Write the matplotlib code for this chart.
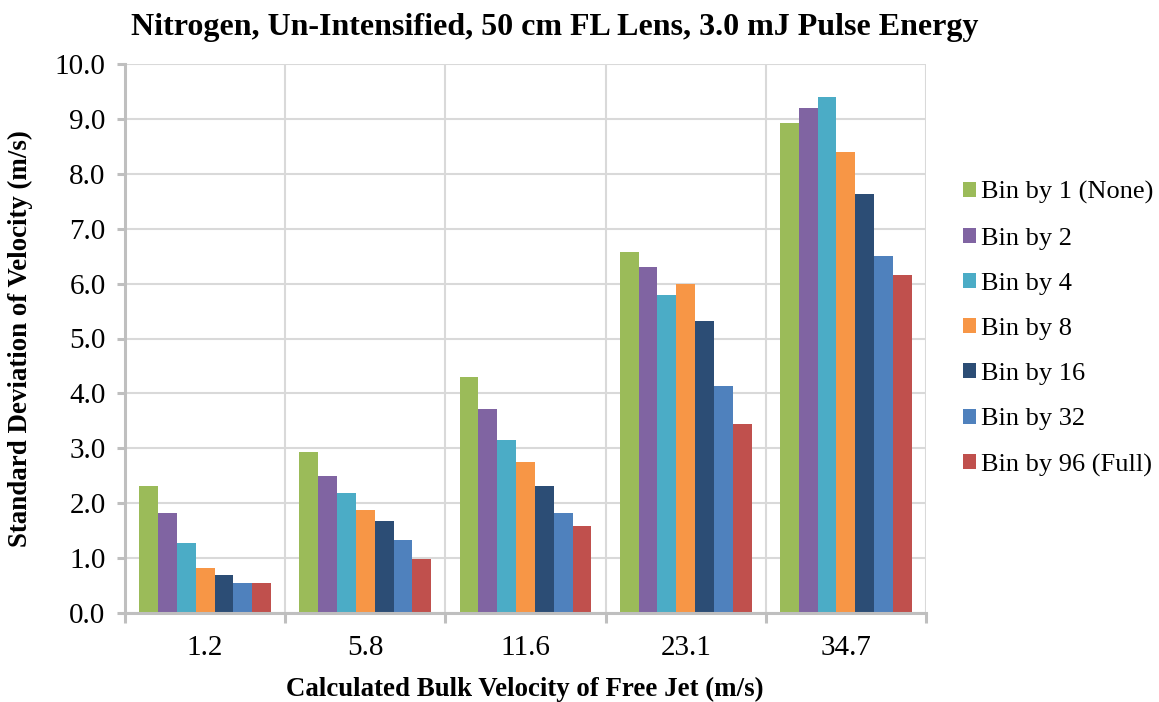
import matplotlib.pyplot as plt
import numpy as np

plt.rcParams['font.family'] = ['Liberation Serif', 'DejaVu Serif']

categories = ['1.2', '5.8', '11.6', '23.1', '34.7']
series_names = ['Bin by 1 (None)', 'Bin by 2', 'Bin by 4', 'Bin by 8',
                'Bin by 16', 'Bin by 32', 'Bin by 96 (Full)']
bin1 = [2.32, 2.93, 4.29, 6.57, 8.92]
bin2 = [1.83, 2.49, 3.72, 6.31, 9.20]
bin4 = [1.28, 2.18, 3.15, 5.79, 9.40]
bin8 = [0.82, 1.88, 2.75, 6.00, 8.40]
bin16 = [0.69, 1.67, 2.32, 5.31, 7.64]
bin32 = [0.55, 1.33, 1.82, 4.14, 6.51]
bin96 = [0.54, 0.99, 1.59, 3.45, 6.15]
series = [bin1, bin2, bin4, bin8, bin16, bin32, bin96]
colors = ['#9BBB59', '#8064A2', '#4BACC6', '#F79646', '#2C4D75', '#4F81BD', '#C0504D']

fig = plt.figure(figsize=(11.59, 7.02), dpi=100)
ax = fig.add_axes([125 / 1159, 1 - 613 / 702, (926 - 125) / 1159, (613 - 64) / 702])

x = np.arange(len(categories))
w = 0.1175
bars = []
for i, (vals, col) in enumerate(zip(series, colors)):
    b = ax.bar(x + (i - 3) * w, vals, width=w, color=col, linewidth=0, zorder=3)
    bars.append(b)

ax.set_xlim(-0.5, len(categories) - 0.5)
ax.set_ylim(0, 10)
ax.set_yticks(np.arange(0, 10.1, 1.0))
ax.set_yticklabels([f'{v:.1f}' for v in np.arange(0, 10.1, 1.0)])
ax.set_xticks(x)
ax.set_xticklabels(categories)
ax.set_xticks(np.arange(-0.5, len(categories), 1.0), minor=True)

grid_c = '#d9d9d9'
spine_c = '#bfbfbf'
ax.grid(axis='y', which='major', color=grid_c, linewidth=1.5, zorder=0)
ax.grid(axis='x', which='minor', color=grid_c, linewidth=1.5, zorder=0)
ax.grid(axis='x', which='major', visible=False)

for s in ['top', 'right']:
    ax.spines[s].set_visible(False)
for s in ['left', 'bottom']:
    ax.spines[s].set_color(spine_c)
    ax.spines[s].set_linewidth(2.2)
    ax.spines[s].set_zorder(4)

ax.tick_params(axis='y', which='major', direction='out', length=6, width=2.2,
               color=spine_c, labelsize=21, pad=8)
ax.tick_params(axis='x', which='major', length=0, labelsize=21, pad=16)
ax.tick_params(axis='x', which='minor', direction='out', length=7, width=2.2, color=spine_c)

ax.set_xlabel('Calculated Bulk Velocity of Free Jet (m/s)', fontsize=19.4,
              fontweight='bold', va='center')
ax.set_ylabel('Standard Deviation of Velocity (m/s)', fontsize=19.4,
              fontweight='bold', va='center')
ax.xaxis.set_label_coords((525 - 125) / 801, (613 - 689) / 549)
ax.yaxis.set_label_coords((20 - 125) / 801, 0.5)

fig.text(555 / 1159, 1 - 28 / 702, 'Nitrogen, Un-Intensified, 50 cm FL Lens, 3.0 mJ Pulse Energy',
         ha='center', va='center', fontsize=23, fontweight='bold')

fig.legend(bars, series_names, loc='center left', bbox_to_anchor=(952 / 1159, 1 - 329 / 702),
           frameon=False, fontsize=19, handlelength=0.5, handleheight=0.5,
           handletextpad=0.2, labelspacing=0.88, borderaxespad=0)

fig.savefig('out.png', dpi=100)
